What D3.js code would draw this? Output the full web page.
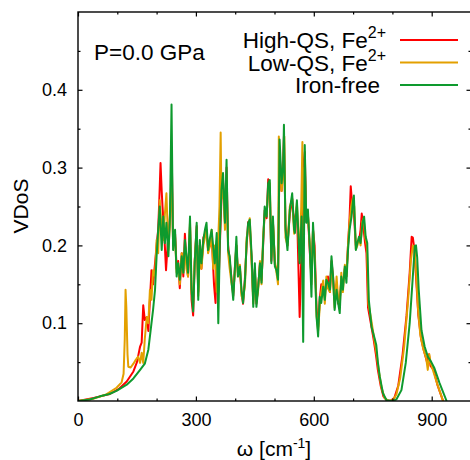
<!DOCTYPE html>
<html>
<head>
<meta charset="utf-8">
<script src="https://cdn.jsdelivr.net/npm/d3@7"></script>
<style>
  body { margin: 0; background: #fff; }
  text { font-family: "Liberation Sans", Arial, sans-serif; fill: #000; }
</style>
</head>
<body>
<svg id="chart" width="470" height="460"></svg>
<script>
// VDoS at P=0.0 GPa, three samples

const xTicks = [0, 300, 600, 900];
const yTicks = [0.1, 0.2, 0.3, 0.4];

const seriesNames = ["High-QS, Fe", "Low-QS, Fe", "Iron-free"];
const seriesSup = ["2+", "2+", ""];
const seriesColors = ["#ff0000", "#e3a000", "#0e9a2e"];

const omegaHigh = [0,40,81,105,124,141,150,158,162,166,170,175,179,183,187,191,196,200,204,207,210,213,215,219,224,228,232,236,239,242,247,251,255,259,264,268,272,276,280,285,289,293,297,302,306,310,314,319,323,327,331,336,340,346,350,353,357,361,365,369,374,378,382,386,391,395,399,403,407,412,416,420,425,429,433,437,442,446,450,454,458,463,467,471,475,480,484,488,492,496,501,505,509,513,518,522,524,528,533,539,545,550,557,564,569,573,577,581,585,590,594,598,602,607,611,615,619,624,628,632,636,641,645,649,653,658,662,666,670,674,679,683,687,691,694,698,702,707,711,715,719,722,726,730,734,738,745,752,758,763,770,777,785,795,805,815,826,836,844,849,852,856,860,866,873,880,888,893,897,905,915,929];
const vdosHigh = [0,0.004,0.009,0.016,0.025,0.038,0.05,0.07,0.075,0.123,0.104,0.108,0.09,0.13,0.168,0.15,0.177,0.2,0.22,0.26,0.306,0.27,0.25,0.22,0.168,0.2,0.22,0.26,0.3,0.2,0.215,0.17,0.18,0.145,0.19,0.16,0.215,0.18,0.16,0.225,0.13,0.11,0.18,0.225,0.14,0.2,0.17,0.21,0.215,0.22,0.195,0.2,0.215,0.15,0.126,0.2,0.14,0.2,0.26,0.285,0.23,0.3,0.2,0.18,0.155,0.135,0.17,0.2,0.165,0.17,0.14,0.125,0.16,0.2,0.23,0.225,0.18,0.13,0.17,0.125,0.145,0.175,0.155,0.2,0.245,0.235,0.285,0.27,0.18,0.23,0.175,0.17,0.16,0.32,0.27,0.31,0.34,0.225,0.2,0.24,0.26,0.225,0.25,0.108,0.2,0.3,0.32,0.23,0.24,0.19,0.16,0.22,0.2,0.12,0.095,0.13,0.15,0.14,0.14,0.15,0.16,0.14,0.18,0.16,0.13,0.15,0.125,0.13,0.155,0.15,0.17,0.16,0.2,0.235,0.276,0.25,0.24,0.2,0.205,0.205,0.22,0.241,0.225,0.205,0.19,0.12,0.1,0.08,0.06,0.04,0.02,0.006,0.001,0,0.004,0.02,0.06,0.11,0.165,0.211,0.21,0.195,0.16,0.11,0.08,0.065,0.05,0.06,0.045,0.04,0.02,0];

const omegaLow = [0,40,70,98,111,116,119,121,123,126,128,134,141,147,153,158,162,166,170,175,179,183,187,191,196,200,204,208,213,217,221,225,230,234,238,242,247,251,255,259,264,268,272,276,280,285,289,293,297,302,306,310,314,319,323,327,331,336,340,344,348,353,357,360,363,365,369,374,378,382,386,391,395,399,403,407,412,416,420,425,429,433,437,442,446,450,454,458,463,467,471,475,480,484,488,492,496,501,505,509,511,515,518,522,525,528,533,539,545,550,557,564,568,571,574,577,581,585,590,594,598,602,607,611,615,619,624,628,632,636,641,645,649,653,658,662,666,670,674,679,683,687,691,695,699,703,707,711,715,719,723,727,731,735,739,746,753,760,765,772,780,790,800,810,820,830,840,847,852,856,860,865,871,878,886,890,894,897,903,912,929];
const vdosLow = [0,0.003,0.008,0.017,0.024,0.035,0.08,0.143,0.12,0.06,0.044,0.043,0.048,0.053,0.057,0.049,0.062,0.049,0.08,0.108,0.1,0.143,0.13,0.168,0.16,0.207,0.19,0.258,0.22,0.207,0.24,0.267,0.194,0.229,0.3,0.2,0.21,0.165,0.175,0.15,0.19,0.165,0.2,0.17,0.16,0.23,0.14,0.125,0.18,0.22,0.135,0.2,0.17,0.2,0.21,0.22,0.19,0.2,0.22,0.17,0.2,0.14,0.21,0.25,0.345,0.26,0.28,0.22,0.29,0.19,0.17,0.15,0.14,0.165,0.2,0.16,0.175,0.135,0.13,0.15,0.21,0.22,0.235,0.175,0.125,0.165,0.13,0.14,0.18,0.15,0.21,0.24,0.24,0.27,0.28,0.185,0.23,0.18,0.165,0.15,0.34,0.29,0.27,0.29,0.34,0.21,0.2,0.25,0.26,0.215,0.255,0.18,0.25,0.333,0.2,0.3,0.235,0.24,0.2,0.15,0.22,0.19,0.11,0.09,0.12,0.14,0.155,0.125,0.16,0.145,0.14,0.17,0.155,0.12,0.16,0.13,0.12,0.165,0.14,0.175,0.16,0.2,0.23,0.25,0.26,0.25,0.195,0.2,0.21,0.2,0.23,0.235,0.21,0.2,0.125,0.105,0.082,0.06,0.04,0.018,0.004,0,0.001,0.008,0.03,0.07,0.13,0.18,0.2,0.195,0.17,0.12,0.085,0.068,0.055,0.04,0.06,0.05,0.04,0.025,0];

const omegaFree = [0,30,56,80,98,124,141,158,170,179,187,191,196,200,204,208,213,217,221,225,230,234,238,242,247,251,255,259,264,268,272,276,280,285,289,293,297,302,306,310,314,319,323,327,331,336,340,348,353,357,361,365,369,374,378,382,386,391,395,399,403,407,412,416,420,425,429,433,437,442,446,450,454,458,463,467,471,475,480,484,488,492,496,501,505,509,513,518,522,524,528,533,539,545,550,552,557,564,569,573,577,581,585,590,594,598,602,607,611,615,619,624,628,632,636,641,645,649,653,658,662,666,670,674,679,683,687,691,696,700,702,707,711,715,719,724,728,732,736,740,747,755,759,763,768,776,785,800,810,823,834,844,852,857,860,863,867,874,882,890,899,907,920,938];
const vdosFree = [0,0.002,0.006,0.009,0.013,0.021,0.029,0.04,0.048,0.066,0.1,0.117,0.143,0.186,0.22,0.25,0.194,0.237,0.203,0.229,0.186,0.237,0.381,0.194,0.22,0.16,0.177,0.156,0.186,0.165,0.207,0.186,0.165,0.237,0.143,0.115,0.177,0.229,0.13,0.207,0.177,0.207,0.22,0.229,0.194,0.21,0.22,0.177,0.216,0.1,0.207,0.271,0.293,0.229,0.31,0.194,0.186,0.152,0.13,0.168,0.211,0.16,0.173,0.143,0.126,0.156,0.203,0.229,0.233,0.186,0.121,0.177,0.121,0.143,0.177,0.152,0.203,0.25,0.237,0.28,0.284,0.177,0.237,0.173,0.168,0.156,0.336,0.28,0.301,0.355,0.22,0.194,0.246,0.267,0.22,0.216,0.258,0.177,0.237,0.076,0.329,0.229,0.246,0.194,0.134,0.229,0.186,0.108,0.083,0.134,0.126,0.147,0.13,0.156,0.152,0.143,0.186,0.16,0.117,0.143,0.126,0.113,0.16,0.143,0.173,0.152,0.194,0.22,0.237,0.258,0.264,0.194,0.203,0.211,0.203,0.229,0.237,0.211,0.203,0.13,0.095,0.08,0.072,0.05,0.031,0.01,0.001,0,0.002,0.014,0.049,0.1,0.16,0.199,0.2,0.185,0.143,0.091,0.07,0.057,0.05,0.042,0.023,0];

const series = [
  {omega: omegaHigh, vdos: vdosHigh},
  {omega: omegaLow, vdos: vdosLow},
  {omega: omegaFree, vdos: vdosFree}
];
series.forEach((s, i) => {
  if (s.omega.length !== s.vdos.length)
    throw new Error(`series ${i}: ${s.omega.length} omega vs ${s.vdos.length} vdos`);
});

const svg = d3.select("#chart");
const mLeft = 78, mRight = 471, mTop = 12, mBottom = 401;

const x = d3.scaleLinear().domain([0, 1000]).range([mLeft, mRight]);
const y = d3.scaleLinear().domain([0, 0.5]).range([mBottom, mTop]);

svg.append("defs").append("clipPath").attr("id", "clip")
  .append("rect")
  .attr("x", mLeft).attr("y", mTop)
  .attr("width", mRight - mLeft).attr("height", mBottom - mTop);

const line = d3.line()
  .x(d => x(d[0]))
  .y(d => y(d[1]));

svg.append("g").attr("clip-path", "url(#clip)")
  .selectAll("path")
  .data(series)
  .join("path")
  .attr("d", s => line(d3.zip(s.omega, s.vdos)))
  .attr("fill", "none")
  .attr("stroke", (s, i) => seriesColors[i])
  .attr("stroke-width", 2)
  .attr("stroke-linejoin", "round");

// axes, ticks pointing inward, mirrored on top/right
const major = 4.5, minor = 2.5;
const xMinor = d3.range(0, 1001, 100).filter(v => !xTicks.includes(v));
const yMinor = d3.range(0.05, 0.5, 0.05).filter(v => !yTicks.some(t => Math.abs(t - v) < 1e-6));

svg.append("g").attr("transform", `translate(0,${mBottom})`)
  .call(d3.axisBottom(x).tickValues(xTicks).tickSize(-major).tickPadding(12).tickFormat(d3.format("d")));
svg.append("g").attr("transform", `translate(${mLeft},0)`)
  .call(d3.axisLeft(y).tickValues(yTicks).tickSize(-major).tickPadding(11).tickFormat(d3.format(".1f")));
svg.append("g").attr("transform", `translate(0,${mTop})`)
  .call(d3.axisTop(x).tickValues(xTicks).tickSize(-major).tickFormat(""));
svg.append("g").attr("transform", `translate(${mRight},0)`)
  .call(d3.axisRight(y).tickValues(yTicks).tickSize(-major).tickFormat(""));

svg.append("g").attr("transform", `translate(0,${mBottom})`)
  .call(d3.axisBottom(x).tickValues(xMinor).tickSize(-minor).tickFormat(""));
svg.append("g").attr("transform", `translate(0,${mTop})`)
  .call(d3.axisTop(x).tickValues(xMinor).tickSize(-minor).tickFormat(""));
svg.append("g").attr("transform", `translate(${mLeft},0)`)
  .call(d3.axisLeft(y).tickValues(yMinor).tickSize(-minor).tickFormat(""));
svg.append("g").attr("transform", `translate(${mRight},0)`)
  .call(d3.axisRight(y).tickValues(yMinor).tickSize(-minor).tickFormat(""));

svg.selectAll(".domain").remove();
svg.selectAll(".tick line").attr("stroke", "#000").attr("stroke-width", 1.2);
svg.selectAll(".tick text").attr("font-size", 18).attr("fill", "#000")
  .style("font-family", "'Liberation Sans', Arial, sans-serif");

svg.append("rect")
  .attr("x", mLeft).attr("y", mTop)
  .attr("width", mRight - mLeft).attr("height", mBottom - mTop)
  .attr("fill", "none").attr("stroke", "#000").attr("stroke-width", 1.4);

// labels
svg.append("text")
  .attr("x", 94).attr("y", 60)
  .attr("font-size", 22.5)
  .text("P=0.0 GPa");

svg.append("text")
  .attr("transform", "translate(28,206) rotate(-90)")
  .attr("text-anchor", "middle")
  .attr("font-size", 21)
  .text("VDoS");

const xl = svg.append("text")
  .attr("x", 274).attr("y", 456)
  .attr("text-anchor", "middle")
  .attr("font-size", 21);
xl.append("tspan").text("\u03c9 [cm");
xl.append("tspan").attr("dy", -8).attr("font-size", 14).text("-1");
xl.append("tspan").attr("dy", 8).text("]");

// legend
const legend = svg.append("g");
const rows = legend.selectAll("g")
  .data(seriesNames)
  .join("g")
  .attr("transform", (d, i) => `translate(0,${40 + i * 22.5})`);

rows.append("line")
  .attr("x1", 400).attr("x2", 458)
  .attr("stroke", (d, i) => seriesColors[i])
  .attr("stroke-width", 2);

rows.each(function(d, i) {
  const t = d3.select(this).append("text")
    .attr("x", seriesSup[i] ? 386 : 380)
    .attr("y", 8)
    .attr("text-anchor", "end")
    .attr("font-size", 22.5);
  t.append("tspan").text(d);
  if (seriesSup[i]) t.append("tspan").attr("dy", -10).attr("font-size", 16).text(seriesSup[i]);
});
</script>
</body>
</html>
